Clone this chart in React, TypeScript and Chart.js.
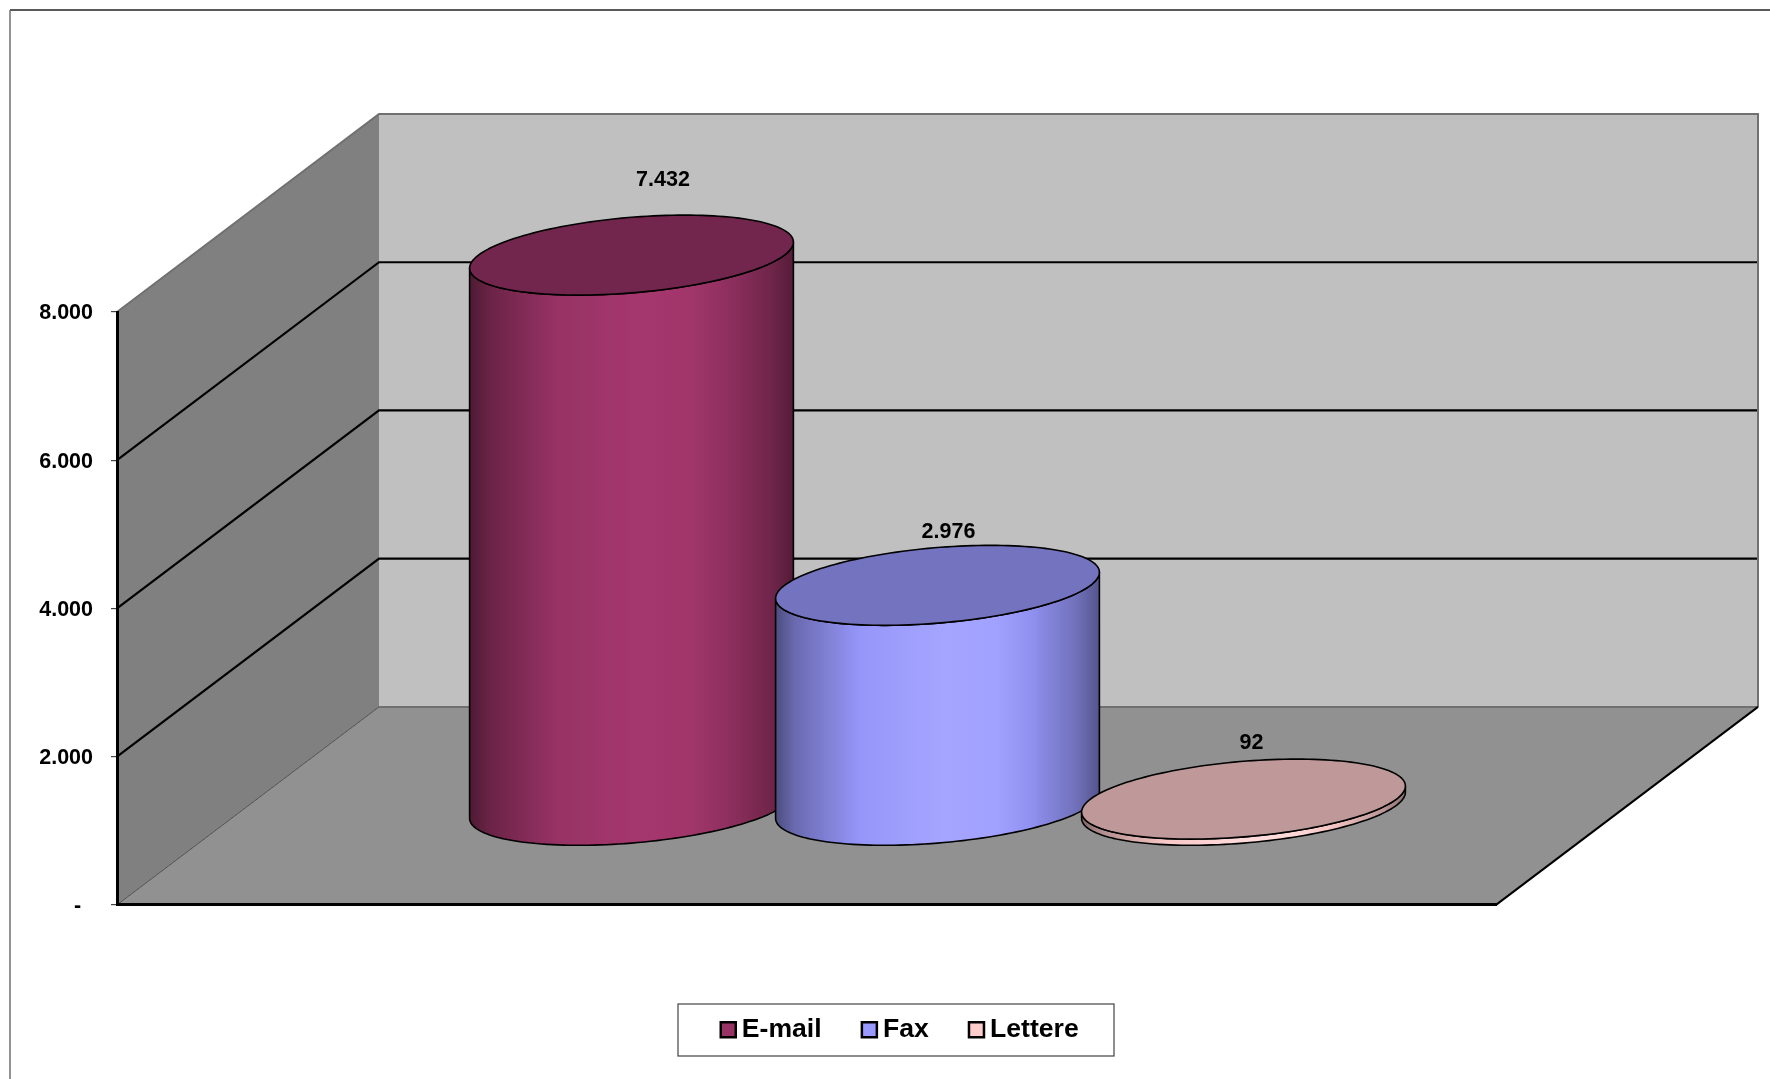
import React, { useEffect, useRef } from "react";
import { Chart, registerables } from "chart.js";

Chart.register(...registerables);

// ---- data ----
const categories = [""];
const seriesNames = ["E-mail", "Fax", "Lettere"];
const emailValues = [7432];
const faxValues = [2976];
const lettereValues = [92];
const seriesColors = ["#993366", "#9999FF", "#FFCCCC"];
const axisMin = 0;
const axisMax = 8000;
const axisStep = 2000;

// ---- 3D look ----
const DEPTH_X = 262;
const DEPTH_Y = -198;
const BAR_DEPTH_POS = 0.5; // position of the bars along the floor depth
const BAR_DEPTH_RADIUS = 0.202; // radius of the cylinders along the depth
const LABEL_OFFSETS = [
  [31.5, -75.5],
  [11, -53],
  [8, -56],
];
const FONT = '"Liberation Sans", Arial, sans-serif';

const formatNumber = (v: number) =>
  v === 0 ? "-  " : String(v).replace(/\B(?=(\d{3})+(?!\d))/g, ".");

function shade(hex: string, f: number) {
  const n = parseInt(hex.slice(1), 16);
  const c = [(n >> 16) & 255, (n >> 8) & 255, n & 255].map((v) =>
    Math.min(255, Math.round(v * f))
  );
  return `rgb(${c[0]},${c[1]},${c[2]})`;
}

function poly(ctx: CanvasRenderingContext2D, pts: number[][], close = false) {
  ctx.beginPath();
  pts.forEach((p, i) => (i ? ctx.lineTo(p[0], p[1]) : ctx.moveTo(p[0], p[1])));
  if (close) ctx.closePath();
}

function drawCylinder(chart: any, index: number) {
  const { ctx } = chart;
  const color = chart.data.datasets[index].backgroundColor as string;
  const bar = chart.getDatasetMeta(index).data[0];
  const { x, y, base, width } = bar.getProps(["x", "y", "base", "width"], true);
  const cx = x + DEPTH_X * BAR_DEPTH_POS;
  const topY = y + DEPTH_Y * BAR_DEPTH_POS;
  const baseY = base + DEPTH_Y * BAR_DEPTH_POS;
  const rx = width / 2;
  const ex = DEPTH_X * BAR_DEPTH_RADIUS;
  const ey = DEPTH_Y * BAR_DEPTH_RADIUS;
  const t0 = Math.atan2(ex, rx);
  const halfW = Math.hypot(rx, ex);
  const at = (cy: number, t: number) => [
    cx + rx * Math.cos(t) + ex * Math.sin(t),
    cy + ey * Math.sin(t),
  ];
  const N = 80;
  const lowerBase: number[][] = [];
  const lowerTop: number[][] = [];
  for (let i = 0; i <= N; i++) {
    const t = t0 - Math.PI + (Math.PI * i) / N;
    lowerBase.push(at(baseY, t));
    lowerTop.unshift(at(topY, t));
  }
  const grad = ctx.createLinearGradient(cx - halfW, 0, cx + halfW, 0);
  grad.addColorStop(0, shade(color, 0.5));
  grad.addColorStop(0.06, shade(color, 0.69));
  grad.addColorStop(0.26, shade(color, 0.98));
  grad.addColorStop(0.52, shade(color, 1.08));
  grad.addColorStop(0.68, shade(color, 1.05));
  grad.addColorStop(0.79, shade(color, 0.94));
  grad.addColorStop(0.93, shade(color, 0.73));
  grad.addColorStop(1, shade(color, 0.55));

  ctx.save();
  ctx.lineJoin = "round";
  ctx.lineWidth = 1.6;
  ctx.strokeStyle = "#000000";
  poly(ctx, [...lowerBase, ...lowerTop], true);
  ctx.fillStyle = grad;
  ctx.fill();
  ctx.stroke();
  const ring: number[][] = [];
  for (let i = 0; i < 160; i++) ring.push(at(topY, (i / 160) * Math.PI * 2));
  poly(ctx, ring, true);
  ctx.fillStyle = shade(color, 0.75);
  ctx.fill();
  ctx.stroke();
  ctx.restore();
}

const scenePlugin = {
  id: "scene3d",
  beforeDraw(chart: any) {
    const { ctx, chartArea: a, scales } = chart;
    const W = chart.width;
    const H = chart.height;
    ctx.save();
    ctx.fillStyle = "#ffffff";
    ctx.fillRect(0, 0, W, H);
    // outer frame
    ctx.lineWidth = 1.4;
    ctx.strokeStyle = "#222222";
    poly(ctx, [[10, 10], [W, 10]]);
    ctx.stroke();
    ctx.strokeStyle = "#666666";
    poly(ctx, [[10, 10], [10, H]]);
    ctx.stroke();

    const l = a.left, r = a.right, t = a.top, b = a.bottom;
    const dx = DEPTH_X, dy = DEPTH_Y;
    // back wall
    ctx.fillStyle = "#C0C0C0";
    ctx.fillRect(l + dx, t + dy, r - l, b - t);
    // left wall
    ctx.fillStyle = "#808080";
    poly(ctx, [[l, t], [l + dx, t + dy], [l + dx, b + dy], [l, b]], true);
    ctx.fill();
    // floor
    ctx.fillStyle = "#919191";
    poly(ctx, [[l, b], [l + dx, b + dy], [r + dx, b + dy], [r, b]], true);
    ctx.fill();

    // grid lines
    ctx.lineWidth = 2.2;
    ctx.strokeStyle = "#000000";
    for (const tick of scales.y.ticks) {
      if (tick.value === axisMin || tick.value === axisMax) continue;
      const y = scales.y.getPixelForValue(tick.value);
      poly(ctx, [[l, y], [l + dx, y + dy], [r + dx, y + dy]]);
      ctx.stroke();
    }
    // wall edges
    ctx.strokeStyle = "#707070";
    ctx.lineWidth = 2;
    poly(ctx, [[l, t], [l + dx, t + dy], [r + dx, t + dy], [r + dx, b + dy]]);
    ctx.stroke();
    poly(ctx, [[l + dx, b + dy], [r + dx, b + dy]]);
    ctx.stroke();
    ctx.lineWidth = 1;
    ctx.strokeStyle = "#505050";
    poly(ctx, [[l, b], [l + dx, b + dy]]);
    ctx.stroke();
    ctx.lineWidth = 2;
    ctx.strokeStyle = "#000000";
    poly(ctx, [[r, b], [r + dx, b + dy]]);
    ctx.stroke();
    ctx.restore();
  },
  // the library would paint flat bars: the cylinders replace them below
  beforeDatasetDraw() {
    return false;
  },
  afterLayout(chart: any) {
    const lg = chart.legend;
    lg.left = 680.5;
    lg.right = 1400;
    lg.top = 969;
    lg.bottom = 1069;
  },
  afterDatasetsDraw(chart: any) {
    const { ctx } = chart;
    chart.data.datasets.forEach((_: any, i: number) => drawCylinder(chart, i));
    ctx.save();
    ctx.font = `bold 21.5px ${FONT}`;
    ctx.fillStyle = "#000000";
    ctx.textAlign = "center";
    ctx.textBaseline = "middle";
    chart.data.datasets.forEach((ds: any, i: number) => {
      const bar = chart.getDatasetMeta(i).data[0];
      const tx = bar.x + DEPTH_X * BAR_DEPTH_POS + LABEL_OFFSETS[i][0];
      const ty = bar.y + DEPTH_Y * BAR_DEPTH_POS + LABEL_OFFSETS[i][1];
      ctx.fillText(formatNumber(ds.data[0]), tx, ty);
    });
    ctx.restore();
  },
  afterDraw(chart: any) {
    const { ctx } = chart;
    ctx.save();
    ctx.strokeStyle = "#444444";
    ctx.lineWidth = 1.2;
    ctx.strokeRect(678, 1004, 436, 52);
    ctx.restore();
  },
};

export default function App() {
  const ref = useRef<HTMLCanvasElement | null>(null);
  useEffect(() => {
    const series = [emailValues, faxValues, lettereValues];
    const chart = new Chart(ref.current as HTMLCanvasElement, {
      type: "bar",
      data: {
        labels: categories,
        datasets: seriesNames.map((label, i) => ({
          label,
          data: series[i],
          backgroundColor: seriesColors[i],
          borderColor: "#000000",
          borderWidth: 2.5,
          barPercentage: 1,
          categoryPercentage: 0.6657,
        })),
      },
      plugins: [scenePlugin],
      options: {
        responsive: false,
        animation: false,
        devicePixelRatio: 1,
        layout: { padding: { left: 0, top: 312, right: 274, bottom: 82 } },
        scales: {
          x: {
            grid: { display: false },
            border: { display: true, color: "#000000", width: 3 },
            ticks: { display: false },
          },
          y: {
            min: axisMin,
            max: axisMax,
            afterFit: (s: any) => {
              s.width = 117;
            },
            ticks: {
              stepSize: axisStep,
              padding: 18,
              labelOffset: 1.5,
              color: "#000000",
              font: { family: FONT, size: 21.5, weight: "bold" },
              callback: (v: any) => formatNumber(Number(v)),
            },
            grid: { drawOnChartArea: false, tickLength: 6, color: "#444444", lineWidth: 1.2 },
            border: { display: true, color: "#000000", width: 3 },
          },
        },
        plugins: {
          tooltip: { enabled: false },
          title: { display: false },
          legend: {
            position: "bottom",
            align: "start",
            maxHeight: 100,
            labels: {
              usePointStyle: true,
              pointStyle: "rect",
              boxWidth: 0.5,
              boxHeight: 15,
              padding: 47.5,
              color: "#000000",
              font: { family: FONT, size: 26.6, weight: "bold" },
            },
          },
        },
      },
    } as any);
    return () => chart.destroy();
  }, []);
  return (
    <div style={{ position: "fixed", left: 0, top: 0, width: 1770, height: 1079 }}>
      <canvas ref={ref} width={1770} height={1079} style={{ display: "block" }} />
    </div>
  );
}
